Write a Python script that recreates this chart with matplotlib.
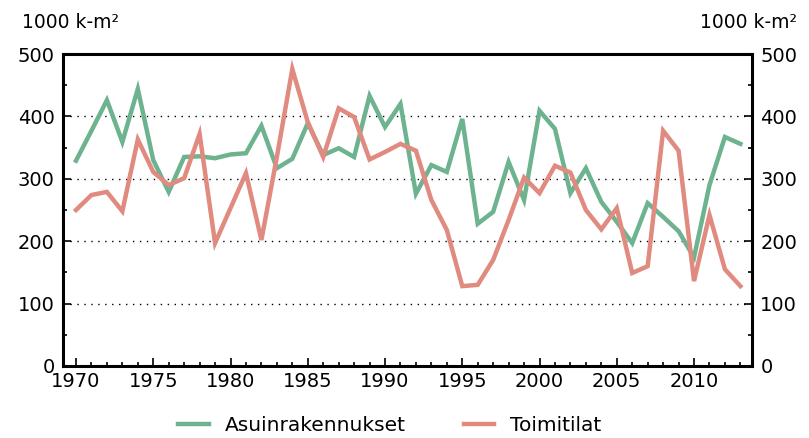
import matplotlib.pyplot as plt
from matplotlib.ticker import MultipleLocator

years = list(range(1970, 2014))
asuin = [329, 377, 426, 359, 444, 330, 279, 335, 336, 333, 339, 341, 385, 317, 332,
         389, 338, 349, 335, 433, 383, 420, 276, 322, 311, 396, 228, 247, 327, 266,
         409, 380, 277, 317, 263, 231, 197, 261, 239, 216, 174, 290, 367, 356]
toimi = [250, 274, 279, 248, 363, 311, 290, 301, 372, 197, 253, 309, 202, 335, 476,
         391, 335, 413, 399, 331, 343, 356, 345, 266, 218, 128, 130, 170, 234, 302,
         277, 321, 310, 250, 219, 253, 149, 160, 377, 345, 136, 242, 155, 128]

green = '#6db38f'
red = '#e08a80'

plt.rcParams['font.family'] = ['DejaVu Sans']

fig = plt.figure(figsize=(8.09, 4.38), dpi=100)
ax = fig.add_axes([0.0779, 0.1644, 0.8516, 0.7123])

ax.plot(years, asuin, color=green, lw=3.2, label='Asuinrakennukset', solid_joinstyle='miter')
ax.plot(years, toimi, color=red, lw=3.2, label='Toimitilat', solid_joinstyle='miter')

ax.set_xlim(1969.16, 2013.75)
ax.set_ylim(0, 500)
ax.xaxis.set_major_locator(MultipleLocator(5))
ax.xaxis.set_minor_locator(MultipleLocator(1))
ax.yaxis.set_major_locator(MultipleLocator(100))
ax.yaxis.set_minor_locator(MultipleLocator(50))
ax.tick_params(which='both', direction='in', right=True, labelright=True,
               labelsize=14, width=1.2, colors='black')
ax.tick_params(which='major', length=5.5)
ax.tick_params(which='minor', length=3)
ax.tick_params(axis='x', which='major', pad=4)
ax.tick_params(axis='y', which='major', pad=6)

for y in [100, 200, 300, 400]:
    ax.axhline(y, color='black', lw=1.0, ls=(0, (1, 4)), zorder=0)

for s in ax.spines.values():
    s.set_linewidth(2.2)

fig.text(0.027, 0.936, '1000 k-m²', fontsize=13.5, ha='left', va='baseline')
fig.text(0.985, 0.936, '1000 k-m²', fontsize=13.5, ha='right', va='baseline')

fig.legend(loc='lower center', bbox_to_anchor=(0.482, -0.035), ncol=2, frameon=False,
           fontsize=14.5, handlelength=1.5, columnspacing=2.9, handletextpad=0.8)

fig.savefig('out.png', dpi=100)
